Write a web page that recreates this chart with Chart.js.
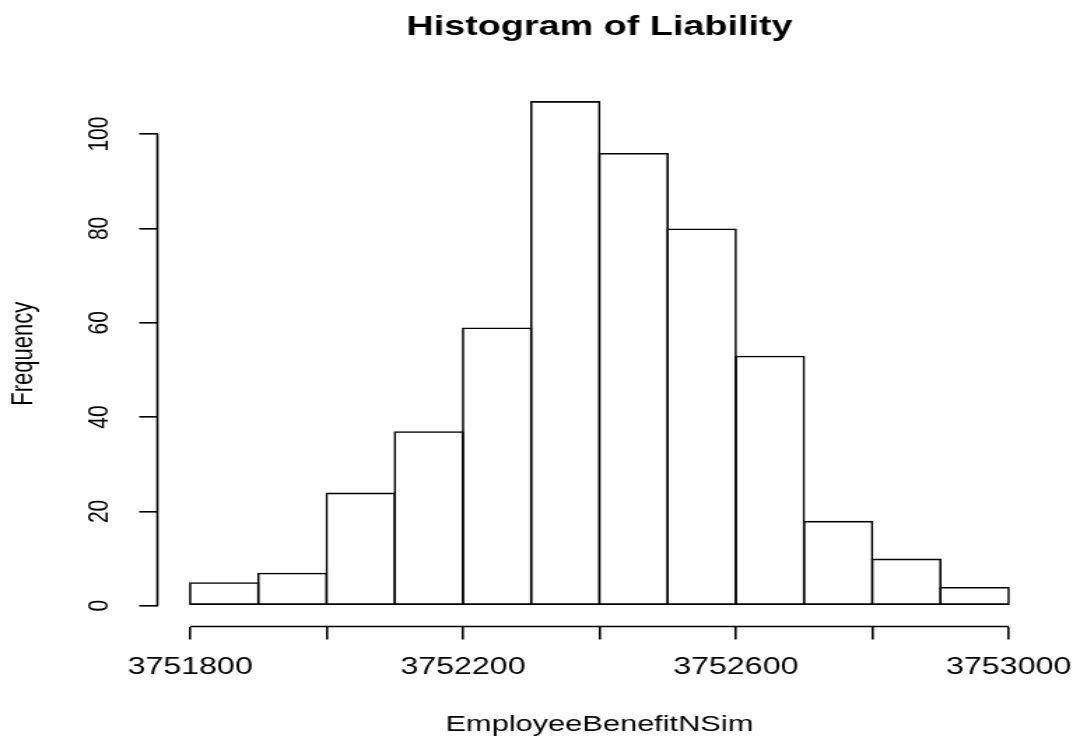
<!DOCTYPE html>
<html>
<head>
<meta charset="utf-8">
<script src="https://cdn.jsdelivr.net/npm/chart.js@4/dist/chart.umd.min.js"></script>
<style>
  html, body { margin: 0; padding: 0; background: #ffffff; overflow: hidden; }
  #wrap { width: 772px; height: 742px; transform: scaleX(1.39896); transform-origin: 0 0; }
</style>
</head>
<body>
<div id="wrap"><canvas id="c"></canvas></div>
<script>
// ---- data ----
const binEdges = [3751800, 3751900, 3752000, 3752100, 3752200, 3752300, 3752400,
                  3752500, 3752600, 3752700, 3752800, 3752900, 3753000];
const frequencies = [5, 7, 24, 37, 59, 107, 96, 80, 53, 18, 10, 4];
const xTickValues = [3751800, 3752000, 3752200, 3752400, 3752600, 3752800, 3753000];
const xTickLabels = ['3751800', '', '3752200', '', '3752600', '', '3753000'];
const yTickValues = [0, 20, 40, 60, 80, 100];
const yTickLabels = ['0', '20', '40', '60', '80', '100'];
const chartTitle = 'Histogram of Liability';
const xTitle = 'EmployeeBenefitNSim';
const yTitle = 'Frequency';

const FONT = '"Liberation Sans", Arial, Helvetica, sans-serif';
const LINE_W = 1.6;

const points = frequencies.map((f, i) => ({ x: (binEdges[i] + binEdges[i + 1]) / 2, y: f }));

const axisLines = {
  id: 'axisLines',
  afterDraw(chart) {
    const { ctx, chartArea, scales: { x, y } } = chart;
    ctx.save();
    ctx.strokeStyle = '#000';
    ctx.lineWidth = LINE_W;
    ctx.beginPath();
    ctx.moveTo(x.getPixelForValue(xTickValues[0]), chartArea.bottom);
    ctx.lineTo(x.getPixelForValue(xTickValues[xTickValues.length - 1]), chartArea.bottom);
    ctx.moveTo(chartArea.left, y.getPixelForValue(yTickValues[0]));
    ctx.lineTo(chartArea.left, y.getPixelForValue(yTickValues[yTickValues.length - 1]));
    ctx.stroke();
    ctx.restore();
  }
};

Chart.defaults.color = '#000';
Chart.defaults.font.family = FONT;

new Chart(document.getElementById('c'), {
  type: 'bar',
  data: {
    datasets: [{
      data: points,
      backgroundColor: 'rgba(255,255,255,0)',
      borderColor: '#000',
      borderWidth: LINE_W,
      borderSkipped: false,
      inflateAmount: 0,
      barPercentage: 1.0328,
      categoryPercentage: 1
    }]
  },
  options: {
    responsive: true,
    maintainAspectRatio: false,
    animation: false,
    events: [],
    layout: { padding: { left: 0, right: 27.6, top: 0, bottom: 0 } },
    plugins: {
      legend: { display: false },
      tooltip: { enabled: false },
      title: {
        display: true,
        text: chartTitle,
        fullSize: false,
        color: '#000',
        font: { family: FONT, size: 27, weight: 'bold' },
        padding: { top: 11.3, bottom: 37.3 }
      }
    },
    scales: {
      x: {
        type: 'linear',
        offset: false,
        min: 3751752,
        max: 3753048,
        afterBuildTicks: (axis) => { axis.ticks = xTickValues.map(v => ({ value: v })); },
        afterFit: (axis) => {
          axis.height = 115.5;
          axis.paddingLeft = 0; axis.paddingRight = 0;
        },
        ticks: {
          autoSkip: false,
          maxRotation: 0,
          minRotation: 0,
          padding: 14,
          color: '#000',
          font: { family: FONT, size: 23 },
          callback: (v) => { const i = xTickValues.indexOf(v); return i >= 0 ? xTickLabels[i] : ''; }
        },
        grid: {
          display: true,
          offset: false,
          drawOnChartArea: false,
          drawTicks: true,
          tickLength: 13,
          color: '#000',
          lineWidth: LINE_W
        },
        border: { display: false },
        title: {
          display: true,
          text: xTitle,
          color: '#000',
          font: { family: FONT, size: 22 },
          padding: { top: 0, bottom: 4 }
        }
      },
      y: {
        type: 'linear',
        min: -4.4,
        max: 111.25,
        afterBuildTicks: (axis) => { axis.ticks = yTickValues.map(v => ({ value: v })); },
        afterFit: (axis) => {
          axis.width = 112.5;
          axis.paddingTop = 0; axis.paddingBottom = 0;
        },
        ticks: {
          autoSkip: false,
          minRotation: 90,
          maxRotation: 90,
          crossAlign: 'center',
          padding: 10.3,
          color: '#000',
          font: { family: FONT, size: 21 },
          callback: (v) => { const i = yTickValues.indexOf(v); return i >= 0 ? yTickLabels[i] : ''; }
        },
        grid: {
          display: true,
          drawOnChartArea: false,
          drawTicks: true,
          tickLength: 13,
          color: '#000',
          lineWidth: LINE_W
        },
        border: { display: false },
        title: {
          display: true,
          text: yTitle,
          color: '#000',
          font: { family: FONT, size: 22 },
          padding: { top: 3.5, bottom: 0 }
        }
      }
    }
  },
  plugins: [axisLines]
});
</script>
</body>
</html>
